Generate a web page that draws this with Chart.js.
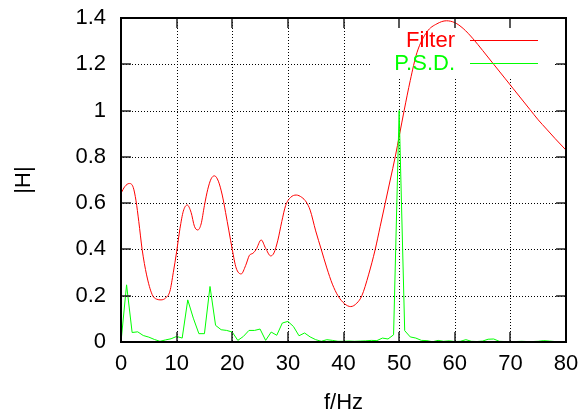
<!DOCTYPE html>
<html>
<head>
<meta charset="utf-8">
<script src="https://cdn.jsdelivr.net/npm/chart.js@4.4.1/dist/chart.umd.min.js"></script>
<style>
  html, body { margin: 0; padding: 0; background: #fff; }
  #wrap { width: 581px; height: 414px; }
</style>
</head>
<body>
<div id="wrap"><canvas id="c" width="581" height="414"></canvas></div>
<script>
// ---- data ----
const xTicks = [0, 10, 20, 30, 40, 50, 60, 70, 80];
const yTicks = [0, 0.2, 0.4, 0.6, 0.8, 1, 1.2, 1.4];

const seriesNames = ['Filter', 'P.S.D.'];

const filterFreq = [0, 0.7, 1.5, 2.2, 2.7, 3.2, 3.8, 4.6, 5.6, 6.4, 7.2, 8.0, 8.8, 9.4, 10.0, 10.6, 11.2, 11.9, 12.6, 13.2, 13.8, 14.4, 15.0, 15.6, 16.2, 16.8, 17.5, 18.2, 18.8, 19.4, 20.0, 20.7, 21.6, 22.4, 23.1, 23.7, 24.3, 25.2, 26.0, 26.9, 27.5, 28.2, 28.9, 29.6, 30.5, 31.5, 32.5, 33.3, 34.0, 35.0, 36.0, 37.0, 38.0, 39.0, 40.2, 41.3, 42.4, 43.3, 44.5, 45.7, 46.6, 47.5, 48.4, 49.3, 50.1, 50.9, 52.0, 53.2, 55.0, 56.8, 58.5, 60.0, 61.5, 63.3, 65.0, 67.0, 69.0, 70.5, 72.0, 73.5, 75.0, 76.5, 78.0, 80.0];
const filterH = [0.642, 0.672, 0.685, 0.668, 0.61, 0.52, 0.40, 0.29, 0.205, 0.185, 0.182, 0.19, 0.22, 0.30, 0.39, 0.49, 0.565, 0.592, 0.56, 0.50, 0.484, 0.51, 0.59, 0.66, 0.705, 0.718, 0.695, 0.635, 0.56, 0.48, 0.40, 0.32, 0.294, 0.33, 0.375, 0.383, 0.40, 0.441, 0.405, 0.372, 0.385, 0.44, 0.52, 0.59, 0.625, 0.635, 0.625, 0.605, 0.57, 0.48, 0.40, 0.32, 0.25, 0.20, 0.165, 0.153, 0.168, 0.20, 0.29, 0.40, 0.50, 0.60, 0.70, 0.80, 0.90, 1.00, 1.13, 1.25, 1.34, 1.375, 1.388, 1.38, 1.355, 1.31, 1.26, 1.20, 1.14, 1.095, 1.05, 1.005, 0.96, 0.92, 0.88, 0.829];

const psdFreq = [0, 1, 2, 3, 4, 5, 6, 7, 8, 9, 10, 11, 12, 13, 14, 15, 16, 17, 18, 19, 20, 21, 22, 23, 24, 25, 26, 27, 28, 29, 30, 31, 32, 33, 34, 35, 36, 37, 38, 39, 40, 41, 42, 43, 44, 45, 46, 47, 48, 49, 50, 51, 52, 53, 54, 55, 56, 57, 58, 59, 60, 61, 62, 63, 64, 65, 66, 67, 68, 69, 70, 71, 72, 73, 74, 75, 76, 77, 78, 79, 80];
const psdH = [0, 0.247, 0.041, 0.044, 0.028, 0.021, 0.011, 0.003, 0.009, 0.014, 0.024, 0.017, 0.182, 0.103, 0.036, 0.036, 0.24, 0.072, 0.053, 0.05, 0.043, 0.007, 0.024, 0.05, 0.05, 0.056, 0.007, 0.043, 0.029, 0.082, 0.089, 0.067, 0.027, 0.039, 0.022, 0.01, 0.003, 0.01, 0.007, 0.003, 0.003, 0.004, 0.003, 0.004, 0.005, 0.007, 0.006, 0.017, 0.013, 0.031, 1.0, 0.049, 0.022, 0.017, 0.007, 0.006, 0.001, 0.007, 0.003, 0.005, 0.002, 0.003, 0.01, 0.003, 0.002, 0.004, 0.012, 0.013, 0.003, 0.002, 0.002, 0.002, 0.003, 0.002, 0.002, 0.003, 0.006, 0.004, 0.002, 0.001, 0.001];

const xTitle = 'f/Hz';
const yTitle = '|H|';

// ---- build chart ----
const FONT = 'Liberation Sans, Arial, Helvetica, sans-serif';
const FS = 22;
const LEGEND_BOX = { x0: 370, y0: 18, x1: 552, y1: 78 };

function inKey(px, py) {
  return px >= LEGEND_BOX.x0 && px <= LEGEND_BOX.x1 && py >= LEGEND_BOX.y0 && py <= LEGEND_BOX.y1;
}

function drawGrid(chart) {
  const { ctx, chartArea: a, scales: { x, y } } = chart;
  ctx.save();
  ctx.fillStyle = '#000';
  xTicks.forEach(v => {
    if (v === xTicks[0] || v === xTicks[xTicks.length - 1]) return;
    const px = Math.round(x.getPixelForValue(v));
    for (let py = Math.round(a.bottom) - 2; py > a.top + 1; py -= 3) {
      if (!inKey(px, py)) ctx.fillRect(px, py, 1, 1);
    }
  });
  yTicks.forEach(v => {
    if (v === yTicks[0] || v === yTicks[yTicks.length - 1]) return;
    const py = Math.round(y.getPixelForValue(v));
    for (let px = Math.round(a.left) + 2; px < a.right - 1; px += 3) {
      if (!inKey(px, py)) ctx.fillRect(px, py, 1, 1);
    }
  });
  ctx.restore();
}

const framePlugin = {
  id: 'frame',
  beforeDraw(chart) {
    drawGrid(chart);
  },
  afterDatasetsDraw(chart) {
    const { ctx, chartArea: a, scales: { x, y } } = chart;
    ctx.save();
    // inward tick marks on all four sides
    const TL = 10;
    ctx.strokeStyle = '#222';
    ctx.lineWidth = 1.5;
    xTicks.forEach(v => {
      const px = Math.round(x.getPixelForValue(v));
      ctx.beginPath(); ctx.moveTo(px, a.bottom); ctx.lineTo(px, a.bottom - TL); ctx.stroke();
      ctx.beginPath(); ctx.moveTo(px, a.top); ctx.lineTo(px, a.top + TL); ctx.stroke();
    });
    yTicks.forEach(v => {
      const py = Math.round(y.getPixelForValue(v));
      ctx.beginPath(); ctx.moveTo(a.left, py); ctx.lineTo(a.left + TL, py); ctx.stroke();
      ctx.beginPath(); ctx.moveTo(a.right, py); ctx.lineTo(a.right - TL, py); ctx.stroke();
    });
    // border
    ctx.strokeStyle = '#000';
    ctx.lineWidth = 2;
    ctx.strokeRect(a.left, a.top, a.right - a.left, a.bottom - a.top);
    // key
    ctx.font = FS + 'px ' + FONT;
    ctx.textAlign = 'right';
    ctx.textBaseline = 'middle';
    const rows = [40, 63];
    chart.data.datasets.forEach((ds, i) => {
      const ty = rows[i];
      ctx.fillStyle = ds.borderColor;
      ctx.fillText(ds.label, 455, ty + 1);
      ctx.strokeStyle = ds.borderColor;
      ctx.lineWidth = 1;
      ctx.beginPath(); ctx.moveTo(470, ty + 0.5); ctx.lineTo(538, ty + 0.5); ctx.stroke();
    });
    ctx.restore();
  }
};

new Chart(document.getElementById('c'), {
  type: 'line',
  data: {
    datasets: [
      {
        label: seriesNames[0],
        data: filterFreq.map((f, i) => ({ x: f, y: filterH[i] })),
        borderColor: '#ff0000',
        borderWidth: 1,
        pointRadius: 0,
        fill: false,
        cubicInterpolationMode: 'monotone',
        order: 1
      },
      {
        label: seriesNames[1],
        data: psdFreq.map((f, i) => ({ x: f, y: psdH[i] })),
        borderColor: '#00ff00',
        borderWidth: 1,
        pointRadius: 0,
        fill: false,
        tension: 0,
        order: 0
      }
    ]
  },
  options: {
    responsive: false,
    animation: false,
    devicePixelRatio: 1,
    layout: { padding: { top: 18, right: 15, left: 0, bottom: 0 } },
    plugins: { legend: { display: false }, tooltip: { enabled: false } },
    scales: {
      x: {
        type: 'linear',
        min: 0, max: 80,
        afterBuildTicks(s) { s.ticks = xTicks.map(v => ({ value: v })); },
        afterFit(s) { s.height = 72; s.paddingLeft = 0; s.paddingRight = 0; },
        ticks: { color: '#000', font: { family: FONT, size: FS }, padding: 9, maxRotation: 0 },
        grid: { display: false, drawTicks: false },
        border: { display: false },
        title: { display: true, text: xTitle, color: '#000', font: { family: FONT, size: FS }, padding: { top: 0, bottom: -2 } }
      },
      y: {
        type: 'linear',
        min: 0, max: 1.4,
        afterBuildTicks(s) { s.ticks = yTicks.map(v => ({ value: v })); },
        afterFit(s) { s.width = 121; s.paddingTop = 0; s.paddingBottom = 0; },
        ticks: { color: '#000', font: { family: FONT, size: FS }, padding: 15, callback: v => String(v) },
        grid: { display: false, drawTicks: false },
        border: { display: false },
        title: { display: true, text: yTitle, color: '#000', font: { family: FONT, size: FS }, padding: { top: 11, bottom: 0 } }
      }
    }
  },
  plugins: [framePlugin]
});
</script>
</body>
</html>
